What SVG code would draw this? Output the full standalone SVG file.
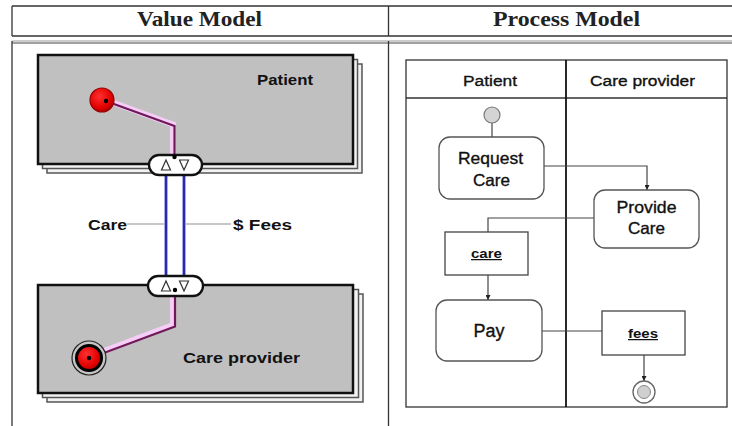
<svg xmlns="http://www.w3.org/2000/svg" width="732" height="426" viewBox="0 0 732 426">
<style>
.tl{stroke:#333;stroke-width:1.3;fill:none}
.hd{font-family:"Liberation Serif","Times New Roman",serif;font-weight:bold;font-size:21.5px;fill:#222}
.lbl{font-family:"Liberation Sans",Arial,sans-serif;font-weight:bold;font-size:14px;fill:#111}
.bk{fill:#f2f2f2;stroke:#555;stroke-width:1.5}
.fr{fill:#c0c0c0;stroke:#111;stroke-width:2.5}
.port{fill:#fff;stroke:#111;stroke-width:2.3}
.tri{fill:#fff;stroke:#333;stroke-width:1.2}
.vl1{stroke:#a8a8ec;stroke-width:4;fill:none}
.vl2{stroke:#2a2aa8;stroke-width:2;fill:none}
.pk{stroke:#f6cdf6;stroke-width:6;fill:none;stroke-linejoin:miter}
.pu{stroke:#6e1a58;stroke-width:2.2;fill:none;stroke-linejoin:miter}
.gl{stroke:#b4b4b4;stroke-width:1.5}
.act{fill:#fff;stroke:#555;stroke-width:1.3}
.obj{fill:#fff;stroke:#444;stroke-width:1.3}
.rt{font-family:"Liberation Sans",Arial,sans-serif;font-size:16.5px;fill:#111;stroke:#111;stroke-width:0.35;text-anchor:middle}
.ot{font-family:"Liberation Sans",Arial,sans-serif;font-weight:bold;font-size:12.5px;fill:#111;text-anchor:middle;text-decoration:underline}
.cn{stroke:#444;stroke-width:1.2;fill:none}
</style>
<defs>
<marker id="arr" viewBox="0 0 10 10" refX="10" refY="5" markerWidth="5" markerHeight="5" orient="auto" markerUnits="userSpaceOnUse">
<path d="M0,0 L10,5 L0,10 Z" fill="#222"/>
</marker>
<radialGradient id="redg" cx="0.4" cy="0.35" r="0.7">
<stop offset="0" stop-color="#ff3030"/>
<stop offset="0.7" stop-color="#e00000"/>
<stop offset="1" stop-color="#a00000"/>
</radialGradient>
</defs>

<g id="table">
<line class="tl" x1="12" y1="6" x2="732" y2="6"/>
<line class="tl" x1="12" y1="36" x2="732" y2="36"/>
<line x1="12" y1="41" x2="732" y2="41" stroke="#999" stroke-width="1.2"/>
<line x1="12" y1="43" x2="732" y2="43" stroke="#444" stroke-width="1.2"/>
<line class="tl" x1="12" y1="6" x2="12" y2="36"/>
<line class="tl" x1="12" y1="41" x2="12" y2="426"/>
<line class="tl" x1="388.5" y1="6" x2="388.5" y2="36"/>
<line class="tl" x1="388.5" y1="41" x2="388.5" y2="426"/>
<text class="hd" x="137" y="26" textLength="125" lengthAdjust="spacingAndGlyphs">Value Model</text>
<text class="hd" x="493" y="26" textLength="147" lengthAdjust="spacingAndGlyphs">Process Model</text>
</g>

<g id="actor-patient">
<rect class="bk" x="47" y="64" width="315" height="109"/>
<rect class="bk" x="42.5" y="59.5" width="315" height="109"/>
<rect class="fr" x="38" y="55" width="315" height="109"/>
<text class="lbl" x="257" y="85" textLength="56" lengthAdjust="spacingAndGlyphs">Patient</text>
</g>

<g id="actor-care-provider">
<rect class="bk" x="47" y="294" width="316" height="108"/>
<rect class="bk" x="42.5" y="289.5" width="316" height="108"/>
<rect class="fr" x="38" y="285" width="315" height="108"/>
<text class="lbl" x="183" y="363" textLength="117" lengthAdjust="spacingAndGlyphs">Care provider</text>
</g>

<g id="value-connectors">
<line class="vl1" x1="166" y1="170" x2="166" y2="281"/>
<line class="vl1" x1="184" y1="170" x2="184" y2="281"/>
<line class="vl2" x1="166" y1="170" x2="166" y2="281"/>
<line class="vl2" x1="184" y1="170" x2="184" y2="281"/>
<line class="gl" x1="127" y1="224" x2="164" y2="224"/>
<line class="gl" x1="186" y1="224" x2="231" y2="224"/>
<text class="lbl" x="88" y="230" textLength="39" lengthAdjust="spacingAndGlyphs">Care</text>
<text class="lbl" x="233" y="230" textLength="59" lengthAdjust="spacingAndGlyphs">$ Fees</text>
<polyline class="pk" points="106,100 173,124.5 173,157"/>
<polyline class="pu" points="107,101.5 174.5,126 174.5,157"/>
<polyline class="pk" points="173,290 173,325 88,357"/>
<polyline class="pu" points="175,290 175,326.5 89,358.5"/>
</g>

<g id="port-patient">
<rect class="port" x="149" y="155" width="53" height="20" rx="10"/>
<polygon class="tri" points="166,160 161.5,170 170.5,170"/>
<polygon class="tri" points="179.5,160 188.5,160 184,170"/>
<circle cx="174.5" cy="157" r="2.2" fill="#000"/>
</g>

<g id="port-care-provider">
<rect class="port" x="148" y="276" width="55" height="20" rx="10"/>
<polygon class="tri" points="166,281 161.5,291 170.5,291"/>
<polygon class="tri" points="179.5,281 188.5,281 184,291"/>
<circle cx="175" cy="290" r="2.2" fill="#000"/>
</g>

<g id="start-stimulus">
<circle cx="102" cy="100" r="12" fill="url(#redg)" stroke="#900" stroke-width="1.2"/>
<circle cx="106" cy="101" r="2.2" fill="#000"/>
</g>

<g id="end-stimulus">
<circle cx="89" cy="358" r="17" fill="#c4c4c4" stroke="#222" stroke-width="1.2"/>
<circle cx="89" cy="358" r="12.5" fill="url(#redg)" stroke="#000" stroke-width="3"/>
<circle cx="89" cy="358" r="2.2" fill="#000"/>
</g>

<g id="swimlanes">
<rect x="406" y="60" width="321" height="347" fill="#fff" stroke="#333" stroke-width="1.3"/>
<line x1="406" y1="98" x2="727" y2="98" stroke="#333" stroke-width="1.3"/>
<line x1="566" y1="60" x2="566" y2="407" stroke="#111" stroke-width="1.8"/>
<text class="rt" x="490" y="86" style="font-size:15.5px" textLength="54" lengthAdjust="spacingAndGlyphs">Patient</text>
<text class="rt" x="642.5" y="86" style="font-size:15.5px" textLength="105" lengthAdjust="spacingAndGlyphs">Care provider</text>
</g>

<g id="process-connectors">
<line class="cn" x1="492" y1="123" x2="492" y2="137"/>
<polyline class="cn" points="544,166 647,166 647,190" marker-end="url(#arr)"/>
<polyline class="cn" points="594,218 488,218 488,232"/>
<line class="cn" x1="488" y1="275" x2="488" y2="300" marker-end="url(#arr)"/>
<line class="cn" x1="542" y1="331" x2="602" y2="331"/>
<line class="cn" x1="644" y1="355" x2="644" y2="381" marker-end="url(#arr)"/>
</g>

<g id="initial-node">
<circle cx="492" cy="115" r="8" fill="#d4d4d4" stroke="#777" stroke-width="1.2"/>
</g>

<g id="request-care">
<rect class="act" x="439" y="137" width="105" height="62" rx="11"/>
<text class="rt" x="490.5" y="164" textLength="65" lengthAdjust="spacingAndGlyphs">Request</text>
<text class="rt" x="491.5" y="185.5" textLength="37" lengthAdjust="spacingAndGlyphs">Care</text>
</g>

<g id="provide-care">
<rect class="act" x="594" y="190" width="105" height="58" rx="11"/>
<text class="rt" x="646.5" y="213" textLength="60" lengthAdjust="spacingAndGlyphs">Provide</text>
<text class="rt" x="646.5" y="234" textLength="37" lengthAdjust="spacingAndGlyphs">Care</text>
</g>

<g id="care-object">
<rect class="obj" x="445" y="232" width="83" height="43"/>
<text class="ot" x="486.5" y="258" textLength="31" lengthAdjust="spacingAndGlyphs">care</text>
</g>

<g id="pay">
<rect class="act" x="436" y="300" width="106" height="61" rx="11"/>
<text class="rt" x="489" y="337" style="font-size:18px" textLength="31" lengthAdjust="spacingAndGlyphs">Pay</text>
</g>

<g id="fees-object">
<rect class="obj" x="602" y="311" width="83" height="44"/>
<text class="ot" x="643" y="338" textLength="30" lengthAdjust="spacingAndGlyphs">fees</text>
</g>

<g id="final-node">
<circle cx="644" cy="392" r="11" fill="#fff" stroke="#666" stroke-width="1.3"/>
<circle cx="644" cy="392" r="6.5" fill="#cfcfcf" stroke="#888" stroke-width="1"/>
</g>
</svg>
